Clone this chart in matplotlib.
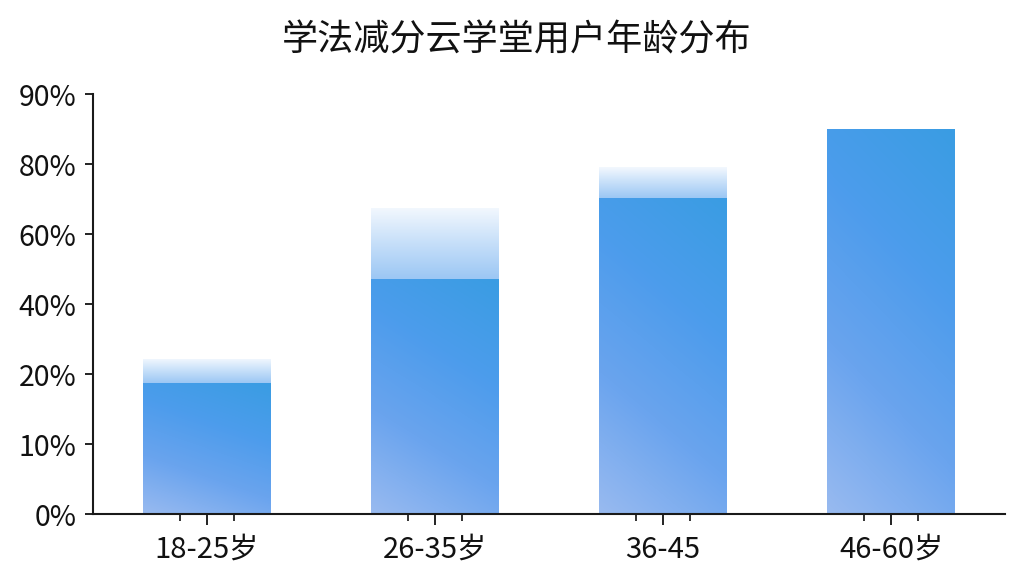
import numpy as np
import matplotlib.pyplot as plt
from matplotlib.colors import LinearSegmentedColormap
from matplotlib.ticker import FixedLocator

plt.rcParams['font.family'] = ['Noto Sans CJK SC', 'DejaVu Sans']

age_groups = ['18-25岁', '26-35岁', '36-45', '46-60岁']
share = [18.7, 47.1, 70.3, 85.0]        # solid bar top (%)
fade_top = [24.3, 67.4, 79.1, 85.0]     # top of the faded cap (%)
tick_values = [0, 10, 20, 40, 60, 80, 90]
tick_labels = ['0%', '10%', '20%', '40%', '60%', '80%', '90%']

tick_pos = np.arange(len(tick_values))


def to_axis(v):
    # the y axis is evenly spaced between uneven tick values
    return np.interp(v, tick_values, tick_pos)


solid_cmap = LinearSegmentedColormap.from_list(
    'solid', ['#98baf0', '#6aa4ee', '#4c9cec', '#3a9de3'])
fade_cmap = LinearSegmentedColormap.from_list(
    'fade', ['#9cc7f4', '#c6dff9', '#f3f8fe'])


def fill_gradient(ax, patch, cmap, diag):
    x0, y0 = patch.get_x(), patch.get_y()
    w, h = patch.get_width(), patch.get_height()
    if h <= 0:
        return
    u = np.linspace(0, 1, 40)
    v = np.linspace(0, 1, 120)
    uu, vv = np.meshgrid(u, v)
    t = (1 - diag) * vv + diag * uu
    im = ax.imshow(t, cmap=cmap, vmin=0, vmax=1, origin='lower', aspect='auto',
                   extent=(x0, x0 + w, y0, y0 + h), interpolation='bilinear', zorder=2)
    im.set_clip_path(patch)


fig = plt.figure(figsize=(10.24, 5.76), dpi=100)
ax = fig.add_axes([0.0908, 0.1076, 0.8906, 0.7292])

x = np.arange(len(age_groups))
width = 0.56
solid_h = to_axis(share)
cap_h = to_axis(fade_top) - solid_h

solid_bars = ax.bar(x, solid_h, width, color='none', linewidth=0, zorder=2)
cap_bars = ax.bar(x, cap_h, width, bottom=solid_h, color='none', linewidth=0, zorder=2)

for p in solid_bars:
    fill_gradient(ax, p, solid_cmap, 0.25)
for p in cap_bars:
    fill_gradient(ax, p, fade_cmap, 0.0)

ax.set_xlim(-0.5, 3.5)
ax.set_ylim(0, tick_pos[-1])

ax.yaxis.set_major_locator(FixedLocator(tick_pos))
ax.set_yticklabels(tick_labels)
ax.set_xticks(x)
ax.set_xticklabels(age_groups)
ax.xaxis.set_minor_locator(FixedLocator(np.concatenate([x - 0.12, x + 0.12])))

for s in ['top', 'right']:
    ax.spines[s].set_visible(False)
for s in ['left', 'bottom']:
    ax.spines[s].set_linewidth(1.5)
    ax.spines[s].set_color('#1a1a1a')

ax.tick_params(axis='y', length=6, width=1.3, pad=6, labelsize=20.5, colors='#111111')
ax.tick_params(axis='x', which='major', length=8, width=1.3, pad=7, labelsize=21, colors='#111111')
ax.tick_params(axis='x', which='minor', length=5, width=1.2, colors='#111111')

fig.text(0.505, 0.93, '学法减分云学堂用户年龄分布', fontsize=26, ha='center', va='center',
         color='#111111')

fig.savefig('out.png', dpi=100)
plt.close(fig)
